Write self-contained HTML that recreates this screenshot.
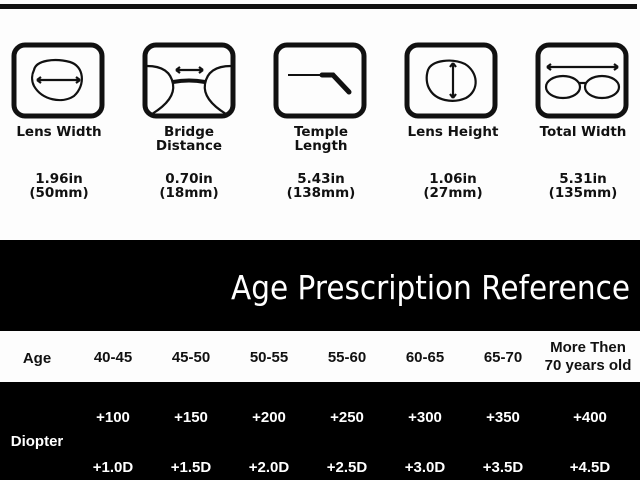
<!DOCTYPE html>
<html><head><meta charset="utf-8"><style>
html,body{margin:0;padding:0;background:#fff;}
svg{display:block}
</style></head><body>
<svg width="640" height="480" viewBox="0 0 640 480" xmlns="http://www.w3.org/2000/svg" font-family="Liberation Sans, sans-serif">
<rect width="640" height="480" fill="#fdfdfd"/>
<rect x="0" y="4" width="637" height="5" fill="#111"/>
<g fill="none" stroke="#111" stroke-width="5">
<rect x="14" y="45" width="88" height="71" rx="11"/>
<rect x="145" y="45" width="88" height="71" rx="11"/>
<rect x="276" y="45" width="88" height="71" rx="11"/>
<rect x="407" y="45" width="88" height="71" rx="11"/>
<rect x="538" y="45" width="88" height="71" rx="11"/>
</g>
<g fill="none" stroke="#111" stroke-width="2.2">
<path d="M34 70 C36 60,55 58,70 62 C84 66,86 85,74 96 C62 104,42 100,34 86 C31 80,32 74,34 70Z"/>
<path d="M37 80 H80"/><path d="M37 80 l4 -3 M37 80 l4 3 M80 80 l-4 -3 M80 80 l-4 3"/>
<path d="M147 66 C162 66,171 72,173 84 C175 96,165 106,152 114"/>
<path d="M231 66 C216 66,207 72,205 84 C203 96,213 106,226 114"/>
<path d="M176 70 H203"/><path d="M176 70 l4 -3 M176 70 l4 3 M203 70 l-4 -3 M203 70 l-4 3"/>
</g>
<path d="M173 82 Q189 79 205 82" stroke="#111" stroke-width="4" fill="none"/>
<path d="M288 75 H325" stroke="#111" stroke-width="2"/>
<path d="M322 75 H333 L349 92" stroke="#111" stroke-width="5" stroke-linecap="round" fill="none"/>
<g fill="none" stroke="#111" stroke-width="2.2">
<path d="M428 70 C432 60,452 58,465 64 C478 72,480 90,466 98 C452 104,436 100,430 90 C426 84,426 76,428 70Z"/>
<path d="M453 63 V98"/><path d="M453 63 l-3 4 M453 63 l3 4 M453 98 l-3 -4 M453 98 l3 -4"/>
<path d="M547 67 H618"/><path d="M547 67 l4 -3 M547 67 l4 3 M618 67 l-4 -3 M618 67 l-4 3"/>
<ellipse cx="563" cy="87" rx="17" ry="11"/>
<ellipse cx="602" cy="87" rx="17" ry="11"/>
<path d="M579 83 H586"/>
</g>
<g font-family="DejaVu Sans, sans-serif" font-weight="bold" font-size="13.5" fill="#111" text-anchor="middle">
<text x="59" y="136">Lens Width</text>
<text x="189" y="136">Bridge</text><text x="189" y="150">Distance</text>
<text x="321" y="136">Temple</text><text x="321" y="150">Length</text>
<text x="453" y="136">Lens Height</text>
<text x="583" y="136">Total Width</text>
<text x="59" y="183">1.96in</text><text x="59" y="197">(50mm)</text>
<text x="189" y="183">0.70in</text><text x="189" y="197">(18mm)</text>
<text x="321" y="183">5.43in</text><text x="321" y="197">(138mm)</text>
<text x="453" y="183">1.06in</text><text x="453" y="197">(27mm)</text>
<text x="583" y="183">5.31in</text><text x="583" y="197">(135mm)</text>
</g>
<rect x="0" y="240" width="640" height="91" fill="#000"/>
<text x="630" y="299" text-anchor="end" font-family="DejaVu Sans, sans-serif" font-size="33" fill="#fff" textLength="399" lengthAdjust="spacingAndGlyphs">Age Prescription Reference</text>
<rect x="0" y="382" width="640" height="98" fill="#000"/>
<g font-weight="bold" font-size="15" fill="#111" text-anchor="middle">
<text x="37" y="363">Age</text>
<text x="113" y="362">40-45</text>
<text x="191" y="362">45-50</text>
<text x="269" y="362">50-55</text>
<text x="347" y="362">55-60</text>
<text x="425" y="362">60-65</text>
<text x="503" y="362">65-70</text>
<text x="588" y="352">More Then</text>
<text x="588" y="370">70 years old</text>
</g>
<g font-weight="bold" font-size="15" fill="#fff" text-anchor="middle">
<text x="37" y="446">Diopter</text>
<text x="113" y="422">+100</text><text x="191" y="422">+150</text><text x="269" y="422">+200</text><text x="347" y="422">+250</text><text x="425" y="422">+300</text><text x="503" y="422">+350</text><text x="590" y="422">+400</text>
<text x="113" y="472">+1.0D</text><text x="191" y="472">+1.5D</text><text x="269" y="472">+2.0D</text><text x="347" y="472">+2.5D</text><text x="425" y="472">+3.0D</text><text x="503" y="472">+3.5D</text><text x="590" y="472">+4.5D</text>
</g>
</svg>
</body></html>
